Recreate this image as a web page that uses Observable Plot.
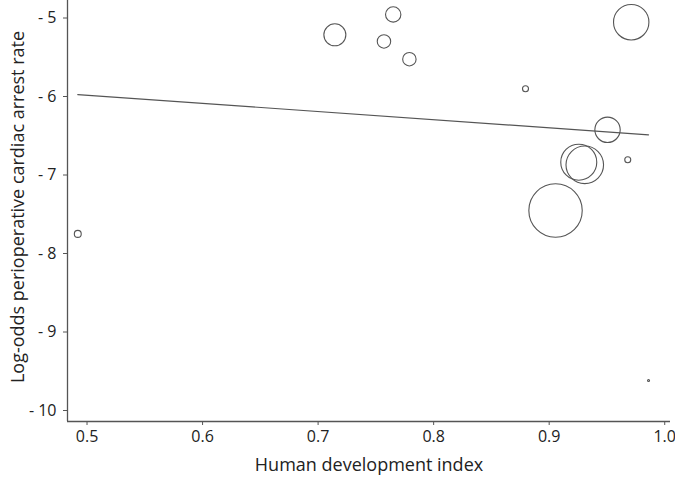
<!DOCTYPE html>
<html>
<head>
<meta charset="utf-8">
<script src="https://cdn.jsdelivr.net/npm/d3@7"></script>
<script src="https://cdn.jsdelivr.net/npm/@observablehq/plot@0.6"></script>
<style>
  html, body { margin: 0; padding: 0; background: #fff; }
  #chart svg { display: block; }
</style>
</head>
<body>
<div id="chart"></div>
<script>
// Study-level data: human development index vs log-odds perioperative cardiac arrest rate
const hdi    = [0.492, 0.7145, 0.765, 0.757, 0.779, 0.8795, 0.971, 0.9505, 0.9256, 0.9308, 0.968, 0.9055, 0.986];
const logOdds = [-7.75, -5.214, -4.955, -5.299, -5.525, -5.902, -5.054, -6.424, -6.837, -6.870, -6.806, -7.452, -9.618];
const weight = [12, 121, 59, 45, 45, 9, 313, 161, 324, 353, 9, 713, 1];

// Meta-regression fit line endpoints
const fitX = [0.492, 0.986];
const fitY = [-5.975, -6.488];

const xTicks = [0.5, 0.6, 0.7, 0.8, 0.9, 1.0];
const yTicks = [-5, -6, -7, -8, -9, -10];
const xTitle = "Human development index";
const yTitle = "Log-odds perioperative cardiac arrest rate";

const points = hdi.map((x, i) => ({x, y: logOdds[i], w: weight[i]}))
  .sort((a, b) => b.w - a.w);
const fit = fitX.map((x, i) => ({x, y: fitY[i]}));

const xDomain = [0.4831, 1.005];
const yDomain = [-10.140, -4.777];

const chart = Plot.plot({
  width: 675,
  height: 481,
  marginLeft: 67,
  marginRight: 5,
  marginTop: 0,
  marginBottom: 60,
  style: {fontFamily: "'Open Sans', sans-serif", fontSize: "16px", color: "#222", background: "#fff"},
  x: {domain: xDomain},
  y: {domain: yDomain},
  r: {type: "sqrt", domain: [0, 713], range: [0, 26.7]},
  marks: [
    Plot.axisX({ticks: xTicks, tickFormat: d3.format(".1f"), tickSize: 4, tickPadding: 5, stroke: "#555", label: null}),
    Plot.axisY({ticks: yTicks, tickFormat: d => "- " + Math.abs(d), tickSize: 4, tickPadding: 7, stroke: "#555", label: null}),
    Plot.text([xTitle], {frameAnchor: "bottom", dy: 49, fontSize: 18, fill: "#222"}),
    Plot.text([yTitle], {frameAnchor: "left", textAnchor: "middle", rotate: -90, dx: -49, dy: -4, fontSize: 18, fill: "#222"}),
    Plot.ruleX([xDomain[0]], {stroke: "#555", strokeWidth: 1.3}),
    Plot.ruleY([yDomain[0]], {stroke: "#555", strokeWidth: 1.3}),
    Plot.line(fit, {x: "x", y: "y", stroke: "#555", strokeWidth: 1.2}),
    Plot.dot(points, {x: "x", y: "y", r: "w", fill: "none", stroke: "#555", strokeWidth: 1.1})
  ]
});
document.getElementById("chart").appendChild(chart);
</script>
</body>
</html>
